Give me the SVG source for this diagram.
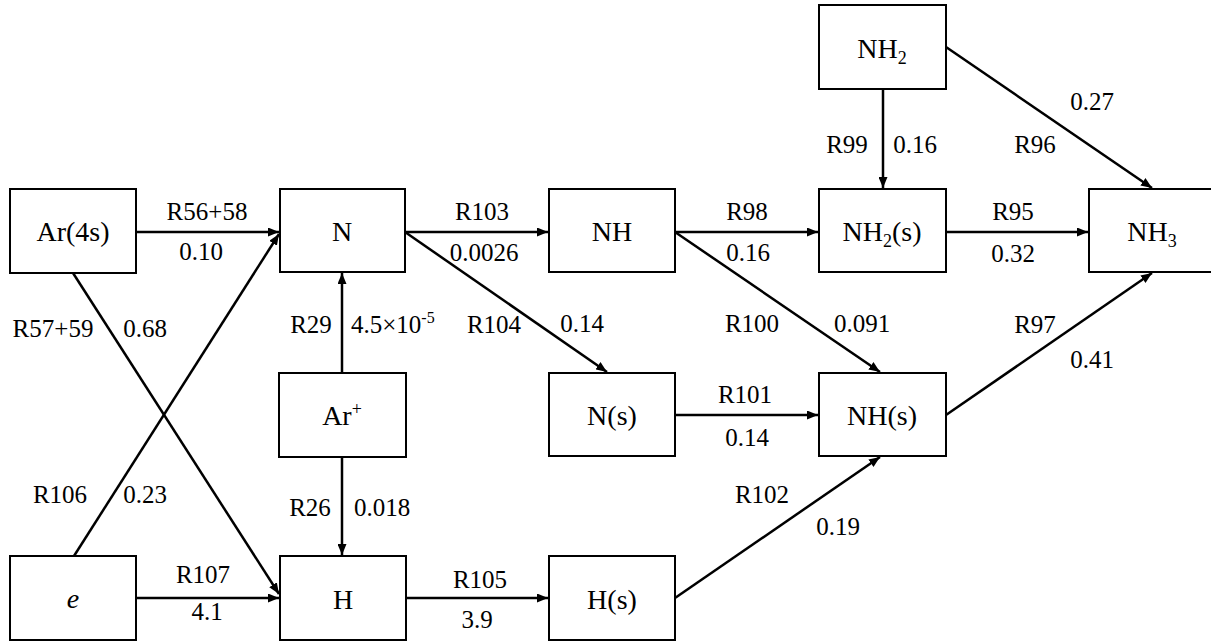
<svg xmlns="http://www.w3.org/2000/svg" width="1211" height="644" viewBox="0 0 1211 644">
<style>
.box{fill:#fff;stroke:#000;stroke-width:2}
.nt{font-size:28px;text-anchor:middle;fill:#000}
.lb{font-size:25px;text-anchor:middle;fill:#000}
.st{text-anchor:start}
.ln{fill:none;stroke:#000;stroke-width:2.5;marker-end:url(#ah)}
</style>
<defs>
<marker id="ah" markerUnits="userSpaceOnUse" markerWidth="11" markerHeight="9" refX="11" refY="4.5" orient="auto">
<path d="M0,0 L11,4.5 L0,9 z" fill="#000"/>
</marker>
</defs>
<rect width="1211" height="644" fill="#fff"/>
<g id="connectors">
<path class="ln" d="M136,232 L279,232"/>
<path class="ln" d="M73,273 L279,594"/>
<path class="ln" d="M74,556 L279,234"/>
<path class="ln" d="M136,598 L279,598"/>
<path class="ln" d="M342,373 L342,273"/>
<path class="ln" d="M342,457 L342,555"/>
<path class="ln" d="M405,232 L548,232"/>
<path class="ln" d="M405,232 L607,372"/>
<path class="ln" d="M675,232 L818,232"/>
<path class="ln" d="M675,232 L880,372"/>
<path class="ln" d="M675,415 L818,415"/>
<path class="ln" d="M883,89 L883,188"/>
<path class="ln" d="M946,47 L1152,188"/>
<path class="ln" d="M946,232 L1088,232"/>
<path class="ln" d="M946,415 L1152,273"/>
<path class="ln" d="M406,598 L548,598"/>
<path class="ln" d="M675,598 L880,457"/>
</g>
<g font-family="Liberation Serif, Tinos, DejaVu Serif, Times New Roman, serif">
<g id="node-Ar4s"><rect class="box" x="10" y="189" width="126" height="84"/><text class="nt" x="73" y="241">Ar(4s)</text></g>
<g id="node-N"><rect class="box" x="280" y="189" width="125" height="83"/><text class="nt" x="342" y="241">N</text></g>
<g id="node-NH"><rect class="box" x="549" y="189" width="126" height="83"/><text class="nt" x="612" y="241">NH</text></g>
<g id="node-NH2"><rect class="box" x="819" y="5" width="127" height="84"/><text class="nt" x="882" y="58">NH<tspan font-size="18" dy="6">2</tspan></text></g>
<g id="node-NH2s"><rect class="box" x="819" y="189" width="127" height="83"/><text class="nt" x="882" y="241">NH<tspan font-size="18" dy="6">2</tspan><tspan dy="-6">(s)</tspan></text></g>
<g id="node-NH3"><rect class="box" x="1089" y="189" width="200" height="83"/><text class="nt" x="1152" y="241">NH<tspan font-size="18" dy="6">3</tspan></text></g>
<g id="node-Arplus"><rect class="box" x="279" y="373" width="127" height="84"/><text class="nt" x="342" y="425">Ar<tspan font-size="18" dy="-10">+</tspan></text></g>
<g id="node-Ns"><rect class="box" x="549" y="373" width="126" height="83"/><text class="nt" x="612" y="425">N(s)</text></g>
<g id="node-NHs"><rect class="box" x="819" y="373" width="127" height="83"/><text class="nt" x="882" y="425">NH(s)</text></g>
<g id="node-e"><rect class="box" x="10" y="556" width="126" height="84"/><text class="nt" x="73" y="608" font-style="italic">e</text></g>
<g id="node-H"><rect class="box" x="280" y="556" width="126" height="84"/><text class="nt" x="343" y="609">H</text></g>
<g id="node-Hs"><rect class="box" x="549" y="556" width="126" height="84"/><text class="nt" x="612" y="609">H(s)</text></g>
<g id="labels">
<text class="lb" x="207" y="220">R56+58</text>
<text class="lb" x="201" y="260">0.10</text>
<text class="lb" x="53" y="337">R57+59</text>
<text class="lb" x="145" y="337">0.68</text>
<text class="lb" x="311" y="333">R29</text>
<text class="lb st" x="351" y="333">4.5×10<tspan font-size="16" dy="-10">-5</tspan></text>
<text class="lb" x="494" y="333">R104</text>
<text class="lb" x="582" y="332">0.14</text>
<text class="lb" x="482" y="220">R103</text>
<text class="lb" x="484" y="261">0.0026</text>
<text class="lb" x="747" y="220">R98</text>
<text class="lb" x="748" y="261">0.16</text>
<text class="lb" x="752" y="332">R100</text>
<text class="lb" x="862" y="332">0.091</text>
<text class="lb" x="745" y="403">R101</text>
<text class="lb" x="747" y="446">0.14</text>
<text class="lb" x="762" y="503">R102</text>
<text class="lb" x="838" y="535">0.19</text>
<text class="lb" x="480" y="588">R105</text>
<text class="lb" x="477" y="628">3.9</text>
<text class="lb" x="203" y="583">R107</text>
<text class="lb" x="207" y="620">4.1</text>
<text class="lb" x="60" y="503">R106</text>
<text class="lb" x="145" y="503">0.23</text>
<text class="lb" x="310" y="516">R26</text>
<text class="lb" x="382" y="516">0.018</text>
<text class="lb" x="847" y="153">R99</text>
<text class="lb" x="915" y="153">0.16</text>
<text class="lb" x="1035" y="153">R96</text>
<text class="lb" x="1092" y="110">0.27</text>
<text class="lb" x="1013" y="220">R95</text>
<text class="lb" x="1013" y="262">0.32</text>
<text class="lb" x="1035" y="333">R97</text>
<text class="lb" x="1092" y="368">0.41</text>
</g>
</g>
</svg>
